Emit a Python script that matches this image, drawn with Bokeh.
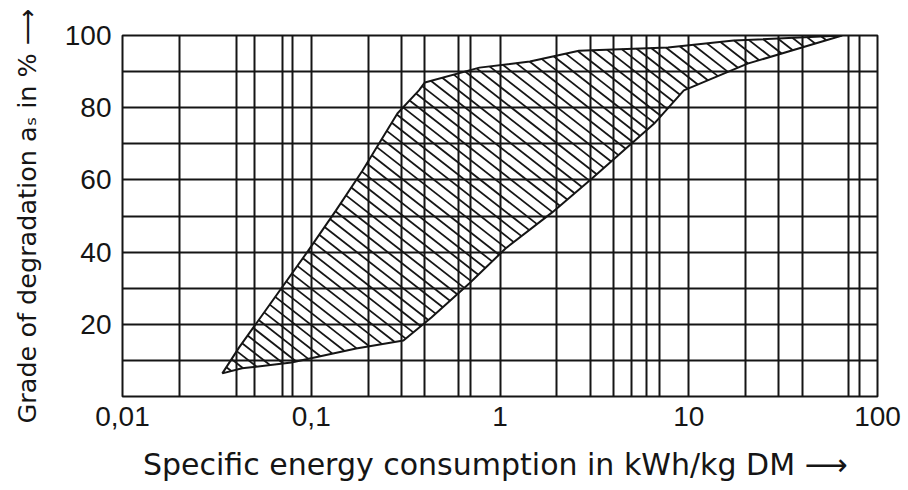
import numpy as np
from bokeh.plotting import figure
from bokeh.models import Range1d, FixedTicker, CustomJSTickFormatter
from bokeh.embed import file_html
from bokeh.resources import INLINE

# ---- data (specific energy in kWh/kg DM, degradation in %) ----
upper_x = [0.0338, 0.0415, 0.0964, 0.135, 0.187, 0.286, 0.372, 0.40, 0.778, 1.44, 2.62, 7.76, 17.3, 65.0]
upper_y = [6.4, 13.6, 40.4, 51.5, 62.6, 78.4, 84.8, 87.0, 91.1, 92.8, 95.8, 96.7, 98.6, 100.0]
lower_x = [0.0338, 0.043, 0.0785, 0.173, 0.308, 0.433, 0.687, 1.07, 1.89, 3.07, 6.56, 9.42, 20.5, 65.0]
lower_y = [6.4, 7.8, 9.4, 13.3, 15.5, 21.9, 31.3, 41.0, 51.0, 60.4, 75.6, 84.8, 92.2, 100.0]

x_major = [0.01, 0.1, 1, 10, 100]
x_minor = [0.02, 0.04, 0.05, 0.07, 0.08, 0.2, 0.3, 0.4, 0.6, 0.7,
           2, 3, 4, 5, 6, 7, 20, 30, 40, 70, 80]
y_major = [20, 40, 60, 80, 100]
y_minor = [10, 30, 50, 70, 90]

x_title = "Specific energy consumption in kWh/kg DM  \u27f6"
y_title = "Grade of degradation a\u209b in % \u27f6"

# ---- layout constants (canvas pixels) ----
WIDTH, HEIGHT = 908, 490
L, R, T, Bm = 122, 31, 35, 94
W = WIDTH - L - R
H = HEIGHT - T - Bm
INK = "#151515"

p = figure(width=WIDTH, height=HEIGHT, x_axis_type="log",
           x_range=Range1d(0.01, 100), y_range=Range1d(0, 100),
           output_backend="svg", toolbar_location=None,
           min_border_left=L, min_border_right=R, min_border_top=T, min_border_bottom=Bm)
p.background_fill_color = "white"
p.border_fill_color = "white"
p.outline_line_color = INK
p.outline_line_width = 2

p.xaxis.ticker = FixedTicker(ticks=x_major, minor_ticks=x_minor)
p.yaxis.ticker = FixedTicker(ticks=y_major, minor_ticks=y_minor)
p.xaxis.formatter = CustomJSTickFormatter(code="return tick.toString().replace('.', ',')")
for ax in (p.xaxis, p.yaxis):
    ax.axis_line_color = None
    ax.major_tick_line_color = None
    ax.minor_tick_line_color = None
    ax.major_tick_out = 0
    ax.major_tick_in = 0
    ax.minor_tick_out = 0
    ax.major_label_text_font = "Liberation Sans"
    ax.major_label_text_font_size = "28px"
    ax.major_label_text_color = INK
    ax.axis_label_text_font = "DejaVu Sans"
    ax.axis_label_text_font_style = "normal"
    ax.axis_label_text_color = INK
p.xaxis.major_label_standoff = 10
p.yaxis.major_label_standoff = 11
p.xaxis.axis_label = x_title
p.yaxis.axis_label = y_title
p.xaxis.axis_label_text_font_size = "30px"
p.yaxis.axis_label_text_font_size = "25.5px"
p.xaxis.axis_label_standoff = 18
p.yaxis.axis_label_standoff = 20

for g in (p.xgrid, p.ygrid):
    g.grid_line_color = INK
    g.grid_line_width = 2
    g.grid_line_alpha = 1
    g.minor_grid_line_color = INK
    g.minor_grid_line_width = 2

# ---- hatched band ----
poly_x = upper_x + lower_x[::-1][1:-1]
poly_y = upper_y + lower_y[::-1][1:-1]


def to_px(x, y):
    return (np.log10(np.asarray(x)) + 2) / 4 * W, (100 - np.asarray(y)) / 100 * H


def to_data(u, v):
    return 10 ** (u / W * 4 - 2), 100 - v / H * 100


a = np.radians(38)
dvec = np.array([np.cos(a), np.sin(a)])
nvec = np.array([-np.sin(a), np.cos(a)])
P = np.column_stack(to_px(poly_x, poly_y))
proj = P @ nvec
x0, y0, x1, y1 = [], [], [], []
for c in np.arange(proj.min() + 4, proj.max(), 9.5):
    pts = []
    for i in range(len(P)):
        p1, p2 = P[i], P[(i + 1) % len(P)]
        s1, s2 = p1 @ nvec - c, p2 @ nvec - c
        if (s1 < 0) != (s2 < 0):
            t = s1 / (s1 - s2)
            pts.append(p1 + t * (p2 - p1))
    pts.sort(key=lambda q: q @ dvec)
    for k in range(0, len(pts) - 1, 2):
        ax_, ay_ = to_data(*pts[k])
        bx_, by_ = to_data(*pts[k + 1])
        x0.append(ax_); y0.append(ay_); x1.append(bx_); y1.append(by_)

p.segment(x0=x0, y0=y0, x1=x1, y1=y1, line_color=INK, line_width=1.8)
p.patch(poly_x, poly_y, fill_color=None, line_color=INK, line_width=2)

open("out.html", "w").write(file_html(p, INLINE))
